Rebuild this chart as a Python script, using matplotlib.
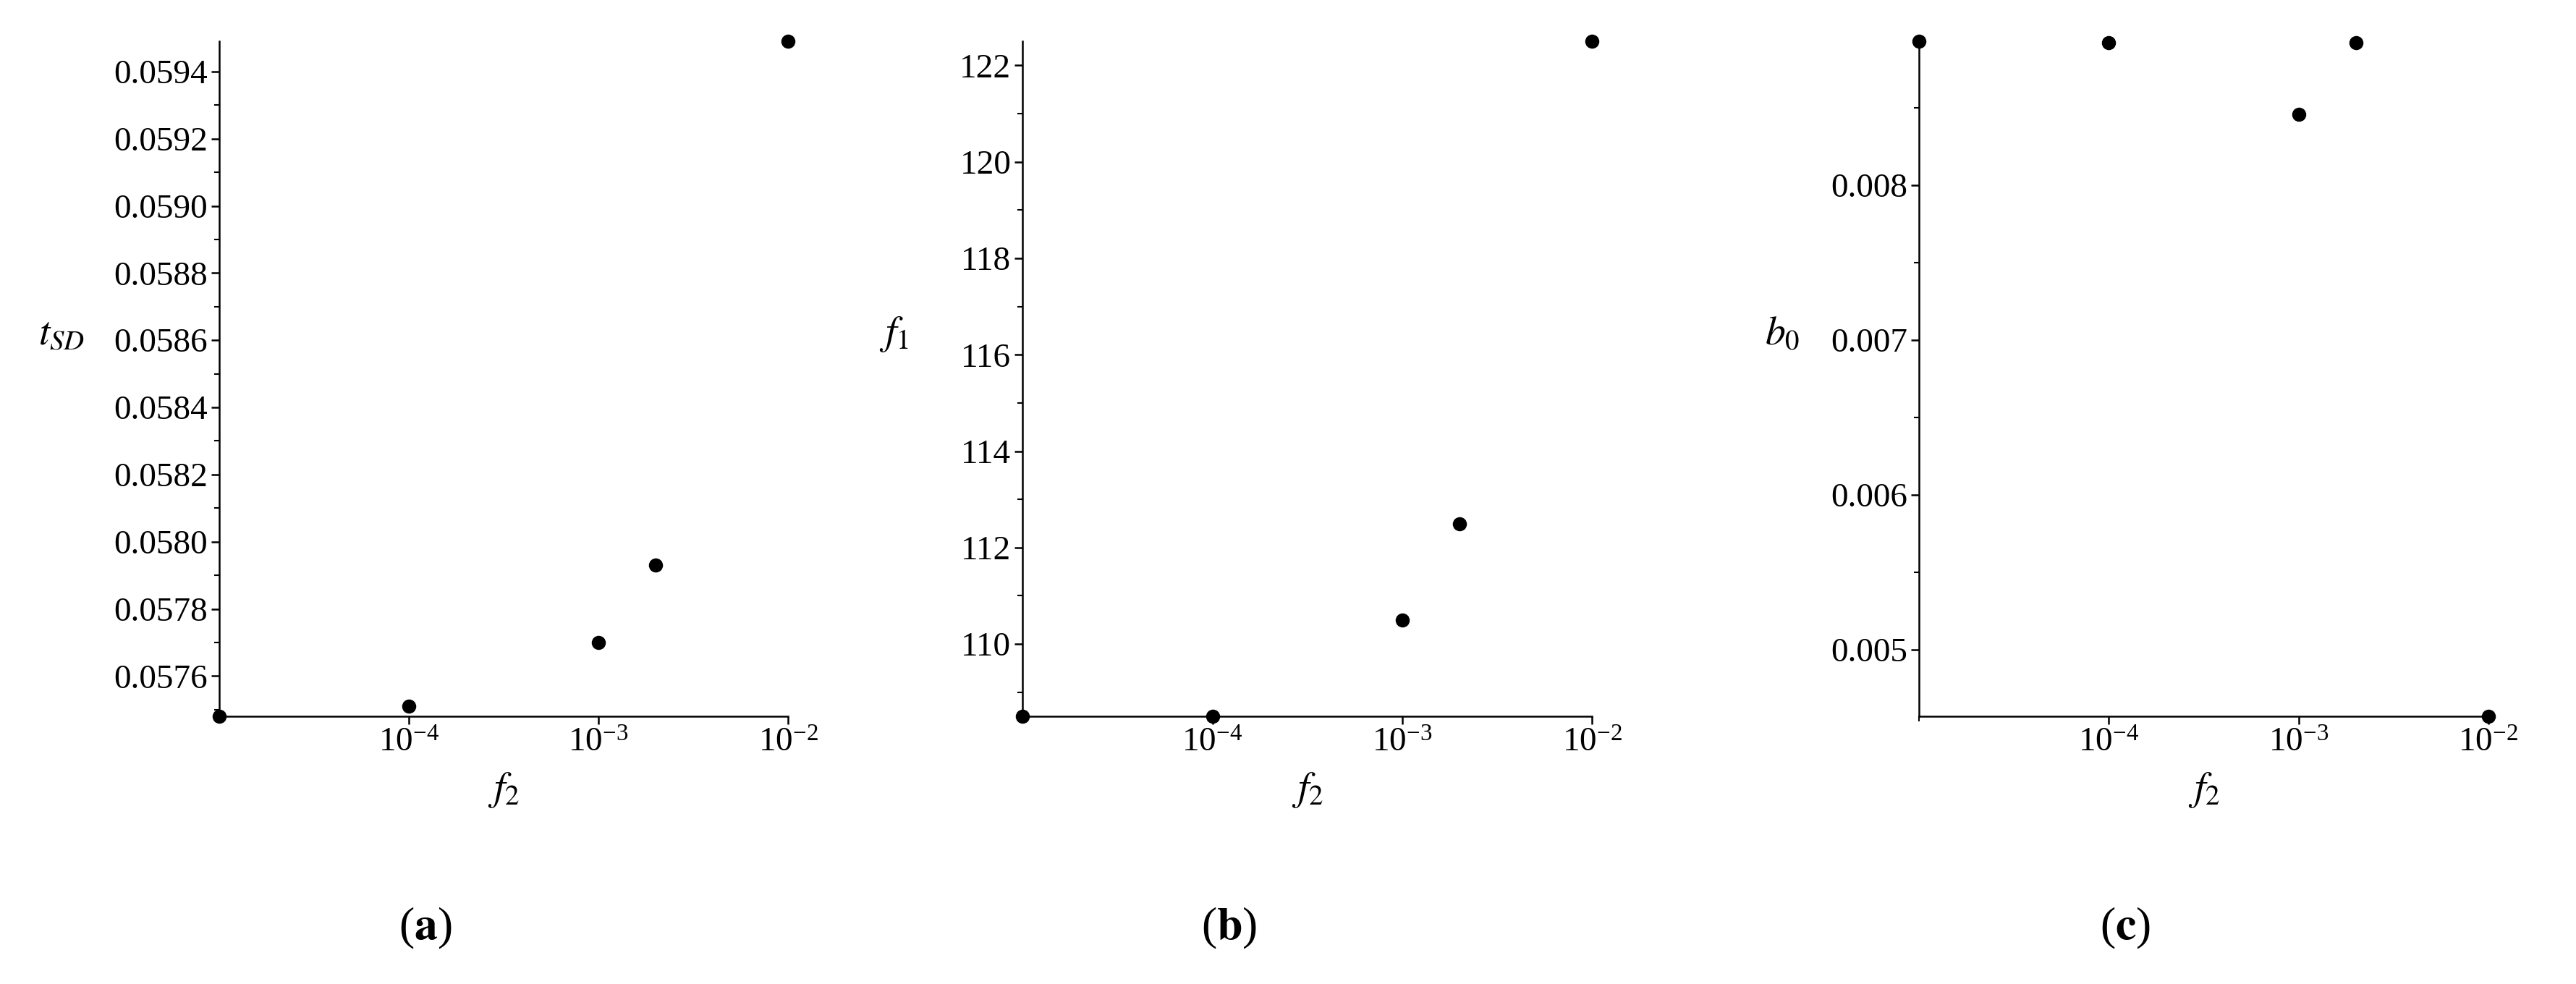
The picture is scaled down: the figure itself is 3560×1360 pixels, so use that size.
import matplotlib.pyplot as plt
from matplotlib.ticker import LogLocator, NullFormatter, AutoMinorLocator

plt.rcParams['font.family'] = ['Liberation Serif', 'DejaVu Serif']
plt.rcParams['mathtext.fontset'] = 'stix'

f2 = [1e-5, 1e-4, 1e-3, 2e-3, 1e-2]
t_sd = [0.05748, 0.05751, 0.05770, 0.05793, 0.05949]
f1 = [108.5, 108.5, 110.5, 112.5, 122.5]
b0 = [0.00893, 0.00892, 0.00846, 0.00892, 0.00457]

panels = [
    (t_sd, r'$t_{SD}$', 'a', [0.0576 + 0.0002 * i for i in range(10)], '%.4f', (0.05748, 0.05949), 0.085, 0.024),
    (f1, r'$f_1$', 'b', [110, 112, 114, 116, 118, 120, 122], '%d', (108.5, 122.5), 0.397, 0.347),
    (b0, r'$b_0$', 'c', [0.005, 0.006, 0.007, 0.008], '%.3f', (0.00457, 0.00893), 0.745, 0.692),
]

fig = plt.figure(figsize=(35.6, 13.6), dpi=100)
for vals, ylab, cap, yt, fmt, ylim, left, ylx in panels:
    ax = fig.add_axes([left, 0.272, 0.221, 0.686])
    ax.scatter(f2, vals, s=170, color='black', clip_on=False, zorder=3)
    ax.set_xscale('log')
    ax.set_xlim(1e-5, 1e-2)
    ax.set_ylim(*ylim)
    ax.set_xticks([1e-4, 1e-3, 1e-2])
    ax.xaxis.set_minor_locator(LogLocator(subs=[]))
    ax.xaxis.set_minor_formatter(NullFormatter())
    ax.set_yticks(yt)
    ax.set_yticklabels([fmt % v for v in yt])
    ax.yaxis.set_minor_locator(AutoMinorLocator(2))
    for s in ['top', 'right']:
        ax.spines[s].set_visible(False)
    for s in ['left', 'bottom']:
        ax.spines[s].set_linewidth(1.8)
    ax.tick_params(labelsize=34, width=1.8, length=8)
    ax.tick_params(which='minor', width=1.5, length=5)
    ax.set_xlabel(r'$f_2$', fontsize=40, labelpad=12)
    fig.text(ylx, 0.66, ylab, fontsize=40, ha='center', va='center')
    fig.text(left + 0.08, 0.057, '(' + r'$\mathbf{' + cap + '}$' + ')', fontsize=46, ha='center', va='center')

fig.savefig('out.png', dpi=100)
